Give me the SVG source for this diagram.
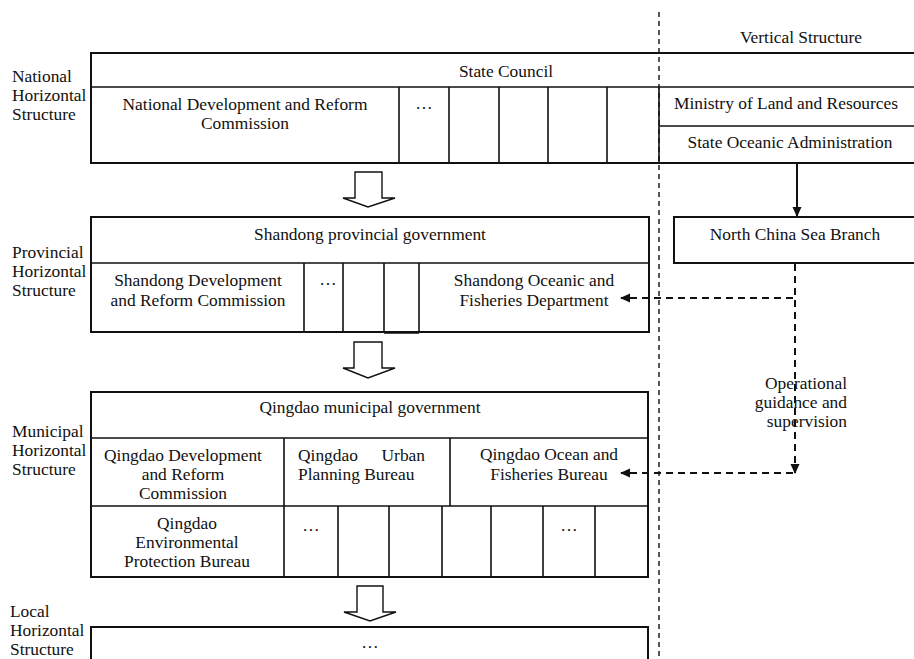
<svg xmlns="http://www.w3.org/2000/svg" width="914" height="659" viewBox="0 0 914 659">
<style>
text{font-family:"Liberation Serif","Times New Roman",serif;font-size:17.4px;fill:#111}
.c{text-anchor:middle}
.e{text-anchor:end}
.b{fill:#fff;stroke:#111;stroke-width:2}
.l{stroke:#111;stroke-width:1.6;fill:none}
.ha{fill:#fff;stroke:#111;stroke-width:1.4}
.dash{stroke:#111;stroke-width:2;stroke-dasharray:7 5;fill:none}
.div{stroke:#111;stroke-width:1.4;stroke-dasharray:5 4;fill:none}
</style>
<defs>
<marker id="ah" viewBox="0 0 10 10" refX="9" refY="5" markerWidth="10" markerHeight="10" markerUnits="userSpaceOnUse" orient="auto">
<path d="M0,0.5 L10,5 L0,9.5 z" fill="#111"/>
</marker>
</defs>

<text x="801" y="43" class="c">Vertical Structure</text>

<g id="labels">
<text x="12" y="82">National</text>
<text x="12" y="101">Horizontal</text>
<text x="12" y="120">Structure</text>
<text x="12" y="258">Provincial</text>
<text x="12" y="277">Horizontal</text>
<text x="12" y="296">Structure</text>
<text x="12" y="437">Municipal</text>
<text x="12" y="456">Horizontal</text>
<text x="12" y="475">Structure</text>
<text x="10" y="617">Local</text>
<text x="10" y="636">Horizontal</text>
<text x="10" y="655">Structure</text>
</g>

<g id="national">
<rect class="b" x="91" y="53" width="826" height="110"/>
<path class="l" d="M91,87H914 M399,87V163 M449,87V163 M499,87V163 M548,87V163 M607,87V163 M659,87V163 M659,126H914"/>
<text x="506" y="77" class="c">State Council</text>
<text x="245" y="110" class="c">National Development and Reform</text>
<text x="245" y="129" class="c">Commission</text>
<text x="424" y="109" class="c">…</text>
<text x="786" y="109" class="c">Ministry of Land and Resources</text>
<text x="790" y="148" class="c">State Oceanic Administration</text>
</g>

<g id="north-china">
<rect class="b" x="674" y="217" width="243" height="46"/>
<text x="795" y="240" class="c">North China Sea Branch</text>
</g>

<g id="provincial">
<rect class="b" x="91" y="217" width="558" height="115"/>
<path class="l" d="M91,263H649 M304,263V332 M343,263V332 M384,263V333 M419,263V333 M384,333H419"/>
<text x="370" y="240" class="c">Shandong provincial government</text>
<text x="198" y="286" class="c">Shandong Development</text>
<text x="198" y="306" class="c">and Reform Commission</text>
<text x="328" y="285" class="c">…</text>
<text x="534" y="286" class="c">Shandong Oceanic and</text>
<text x="534" y="306" class="c">Fisheries Department</text>
</g>

<g id="municipal">
<rect class="b" x="91" y="392" width="557" height="185"/>
<path class="l" d="M91,438H648 M91,506H648 M284,438V577 M450,438V506 M338,506V577 M389,506V577 M442,506V577 M491,506V577 M543,506V577 M595,506V577"/>
<text x="370" y="413" class="c">Qingdao municipal government</text>
<text x="183" y="461" class="c">Qingdao Development</text>
<text x="183" y="480" class="c">and Reform</text>
<text x="183" y="499" class="c">Commission</text>
<text x="298" y="461">Qingdao</text>
<text x="425" y="461" class="e">Urban</text>
<text x="298" y="480">Planning Bureau</text>
<text x="549" y="460" class="c">Qingdao Ocean and</text>
<text x="549" y="480" class="c">Fisheries Bureau</text>
<text x="187" y="529" class="c">Qingdao</text>
<text x="187" y="548" class="c">Environmental</text>
<text x="187" y="567" class="c">Protection Bureau</text>
<text x="311" y="531" class="c">…</text>
<text x="569" y="531" class="c">…</text>
</g>

<g id="local">
<rect class="b" x="91" y="627" width="557" height="40"/>
<text x="370" y="648" class="c">…</text>
</g>

<g id="connectors">
<line class="div" x1="659" y1="12" x2="659" y2="659"/>
<polygon class="ha" points="355,172 382,172 382,198 395,198 368,207 343,198 355,198"/>
<polygon class="ha" points="354,342 382,342 382,368 395,368 368,378 343,368 354,368"/>
<polygon class="ha" points="357,586 383,586 383,612 396,612 370,621 344,612 357,612"/>
<line x1="797" y1="163" x2="797" y2="216" stroke="#111" stroke-width="2" marker-end="url(#ah)"/>
<line class="dash" x1="795" y1="264" x2="795" y2="473" marker-end="url(#ah)"/>
<line class="dash" x1="793" y1="298" x2="621" y2="298" marker-end="url(#ah)"/>
<line class="dash" x1="793" y1="473" x2="621" y2="473" marker-end="url(#ah)"/>
<text x="847" y="389" class="e">Operational</text>
<text x="847" y="408" class="e">guidance and</text>
<text x="847" y="427" class="e">supervision</text>
</g>
</svg>
